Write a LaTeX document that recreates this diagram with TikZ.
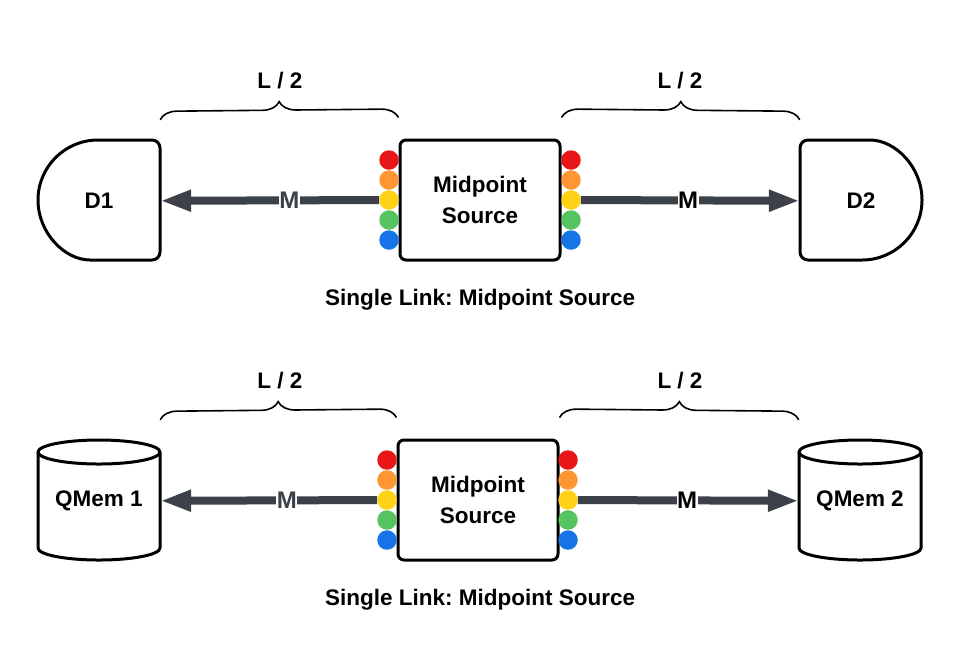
\documentclass[tikz,border=0pt]{standalone}
\usepackage{fontspec}
\setmainfont{Liberation Sans}
\usetikzlibrary{arrows.meta,decorations.pathreplacing}
\definecolor{arrowgray}{RGB}{59,64,73}
\definecolor{dred}{RGB}{232,22,24}
\definecolor{dorange}{RGB}{255,150,52}
\definecolor{dyellow}{RGB}{255,210,24}
\definecolor{dgreen}{RGB}{85,196,96}
\definecolor{dblue}{RGB}{22,116,230}
\frenchspacing
\begin{document}
\begin{tikzpicture}[x=1pt,y=-1pt,
  txt/.style={font=\fontsize{22.5}{31}\selectfont\bfseries},
  srcbox/.style={draw, line width=3pt, rounded corners=6pt, minimum width=160pt, minimum height=120pt, align=center, txt, fill=white, inner sep=0pt},
  region/.style={minimum width=122pt, minimum height=120pt, inner sep=0pt, txt},
  outline/.style={line width=3pt, line join=round},
  beam/.style={draw=arrowgray, line width=8pt, -{Triangle[length=31pt,width=20pt]}},
  mlabel/.style={font=\fontsize{24}{28}\selectfont\bfseries, fill=white, inner sep=0.5pt},
  dot/.style={circle, inner sep=0pt, minimum size=19.5pt},
  span/.style={draw, line width=1.6pt, decorate, decoration={brace, amplitude=17pt}},
]
\useasboundingbox (0,0) rectangle (960,657);

% ---------- top row ----------
\node[region] (d1) at (99,201) {D1};
\node[region] (d2) at (861,201) {D2};
\draw[outline] (98,260) arc[start angle=90, end angle=270, radius=60]
  [rounded corners=8pt] -- (160,140) -- (160,260) -- cycle;
\draw[outline] (862,140) arc[start angle=270, end angle=450, radius=60]
  [rounded corners=8pt] -- (800,260) -- (800,140) -- cycle;
\node[srcbox] (s1) at (480,200) {Midpoint\\Source};
\foreach \c [count=\i] in {dred,dorange,dyellow,dgreen,dblue} {
  \node[dot, fill=\c] (la\i) at (389,140+20*\i) {};
  \node[dot, fill=\c] (ra\i) at (571,140+20*\i) {};
}
\draw[beam] (la3) -- node[mlabel, text=arrowgray, pos=0.41] (m1) {M} (d1);
\draw[beam] (ra3) -- node[mlabel, pos=0.49] (m2) {M} (d2);
\draw[span] ([yshift=21pt]d1.north east) -- ([yshift=21pt]s1.north west);
\draw[span] ([yshift=21pt]s1.north east) -- ([yshift=21pt]d2.north west);
\node[txt] (h1) at (280,81) {L / 2};
\node[txt] (h2) at (680,81) {L / 2};
\node[txt] (c1) at (480,300) {Single Link: Midpoint Source};

% ---------- bottom row ----------
\node[region] (q1) at (99,501) {QMem 1};
\node[region] (q2) at (860,501) {QMem 2};
\draw[outline] (38,452) -- (38,548) arc[start angle=180, end angle=0, x radius=61, y radius=12] -- (160,452);
\draw[outline] (99,452) ellipse[x radius=61, y radius=12];
\draw[outline] (799,452) -- (799,548) arc[start angle=180, end angle=0, x radius=61, y radius=12] -- (921,452);
\draw[outline] (860,452) ellipse[x radius=61, y radius=12];
\node[srcbox] (s2) at (478,500) {Midpoint\\Source};
\foreach \c [count=\i] in {dred,dorange,dyellow,dgreen,dblue} {
  \node[dot, fill=\c] (lb\i) at (387,440+20*\i) {};
  \node[dot, fill=\c] (rb\i) at (568,440+20*\i) {};
}
\draw[beam] (lb3) -- node[mlabel, text=arrowgray, pos=0.416] (m3) {M} (q1);
\draw[beam] (rb3) -- node[mlabel, pos=0.494] (m4) {M} (q2);
\draw[span] ([yshift=21pt]q1.north east) -- ([yshift=21pt]s2.north west);
\draw[span] ([yshift=21pt]s2.north east) -- ([yshift=21pt]q2.north west);
\node[txt] (h3) at (280,381) {L / 2};
\node[txt] (h4) at (680,381) {L / 2};
\node[txt] (c2) at (480,600) {Single Link: Midpoint Source};
\end{tikzpicture}
\end{document}
